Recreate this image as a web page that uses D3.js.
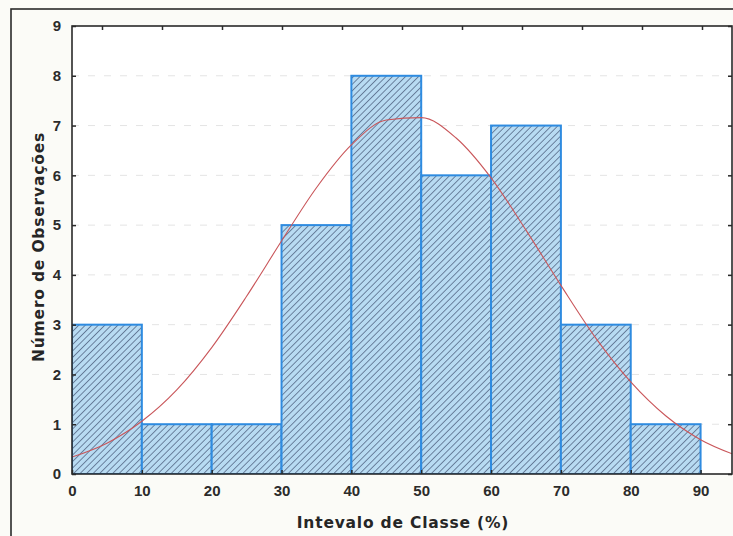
<!DOCTYPE html>
<html><head><meta charset="utf-8">
<script src="https://cdn.jsdelivr.net/npm/d3@7"></script>
<style>
html,body{margin:0;padding:0;background:#fbfbf7;}
svg{display:block;}
</style></head>
<body><svg id="chart" width="733" height="536"></svg>
<script>
// ---- data ----
const binStarts = [0, 10, 20, 30, 40, 50, 60, 70, 80];
const binWidth = 10;
const counts = [3, 1, 1, 5, 8, 6, 7, 3, 1];
const xTicks = [0, 10, 20, 30, 40, 50, 60, 70, 80, 90];
const yTicks = [0, 1, 2, 3, 4, 5, 6, 7, 8, 9];
const curveX = [0, 5, 10, 15, 20, 25, 30, 35, 40, 45, 50, 55, 60, 65, 70, 75, 80, 85, 90, 95];
const curveY = [0.34, 0.62, 1.06, 1.69, 2.54, 3.57, 4.68, 5.75, 6.61, 7.11, 7.16, 6.75, 5.95, 4.90, 3.79, 2.73, 1.85, 1.17, 0.69, 0.38];
const xTitle = "Intevalo de Classe (%)";
const yTitle = "Número de Observações";

// ---- layout ----
const svg = d3.select("#chart");
const L = 72, T = 26, R = 732, B = 474;
const x = d3.scaleLinear().domain([0, 94.5]).range([L, R]);
const y = d3.scaleLinear().domain([0, 9]).range([B, T]);
const xTop = d3.scaleLinear().domain([0, 11]).range([L, R]);

// outer frame
svg.append("rect").attr("x", 11).attr("y", 9).attr("width", 740).attr("height", 560)
  .attr("fill", "#fbfbf7").attr("stroke", "#2a2a2a").attr("stroke-width", 1.6);

// plot background
svg.append("rect").attr("x", L).attr("y", T).attr("width", R - L).attr("height", B - T).attr("fill", "#ffffff");

// clip
svg.append("clipPath").attr("id", "clip").append("rect")
  .attr("x", L).attr("y", T).attr("width", R - L).attr("height", B - T);

// hatch pattern
const defs = svg.append("defs");
const pat = defs.append("pattern").attr("id", "hatch").attr("patternUnits", "userSpaceOnUse")
  .attr("width", 4.6).attr("height", 4.6).attr("patternTransform", "rotate(45)");
pat.append("rect").attr("width", 4.6).attr("height", 4.6).attr("fill", "#b8dbf2");
pat.append("line").attr("x1", 0).attr("y1", 0).attr("x2", 0).attr("y2", 4.6)
  .attr("stroke", "#3b4b6b").attr("stroke-width", 1.25);

// gridlines
svg.append("g").selectAll("line").data(yTicks.slice(1, -1)).join("line")
  .attr("x1", L).attr("x2", R).attr("y1", d => y(d)).attr("y2", d => y(d))
  .attr("stroke", "#e4e4e4").attr("stroke-width", 1).attr("stroke-dasharray", "7,9");

// bars
svg.append("g").attr("clip-path", "url(#clip)").selectAll("rect").data(counts).join("rect")
  .attr("x", (d, i) => x(binStarts[i]))
  .attr("width", (d, i) => x(binStarts[i] + binWidth) - x(binStarts[i]))
  .attr("y", d => y(d))
  .attr("height", d => y(0) - y(d))
  .attr("fill", "url(#hatch)")
  .attr("stroke", "#2e8be0").attr("stroke-width", 2);

// fitted curve
const line = d3.line().x((d, i) => x(curveX[i])).y(d => y(d)).curve(d3.curveMonotoneX);
svg.append("path").attr("clip-path", "url(#clip)").datum(curveY).attr("d", line)
  .attr("fill", "none").attr("stroke", "#c9565a").attr("stroke-width", 1.1);

// plot border
svg.append("rect").attr("x", L).attr("y", T).attr("width", R - L).attr("height", B - T)
  .attr("fill", "none").attr("stroke", "#2a2a2a").attr("stroke-width", 1.6);

// axes
const tickFont = "'Liberation Sans Narrow', 'Liberation Sans', Arial, sans-serif";
const yAxis = d3.axisLeft(y).tickValues(yTicks).tickSize(-4).tickPadding(11).tickFormat(d3.format("d"));
const gy = svg.append("g").attr("transform", `translate(${L},0)`).call(yAxis);
const xAxis = d3.axisBottom(x).tickValues(xTicks).tickSize(-4).tickPadding(11).tickFormat(d3.format("d"));
const gx = svg.append("g").attr("transform", `translate(0,${B})`).call(xAxis);
const yAxisR = d3.axisRight(y).tickValues(yTicks).tickSize(-4).tickFormat("");
const gyr = svg.append("g").attr("transform", `translate(${R},0)`).call(yAxisR);
const topAxis = d3.axisTop(xTop).tickValues(d3.range(0.5, 11, 1)).tickSize(-4).tickFormat("");
const gt = svg.append("g").attr("transform", `translate(0,${T})`).call(topAxis);
[gy, gx, gyr, gt].forEach(g => {
  g.select(".domain").remove();
  g.selectAll(".tick line").attr("stroke", "#2a2a2a").attr("stroke-width", 1.5);
  g.selectAll("text").attr("font-family", tickFont).attr("font-size", 15)
    .attr("font-weight", "bold").attr("fill", "#2b2b2b");
});

// titles
const titleFont = "'DejaVu Sans', 'Liberation Sans', Arial, sans-serif";
svg.append("text").attr("x", 403).attr("y", 528).attr("text-anchor", "middle")
  .attr("font-family", titleFont).attr("font-weight", "bold").attr("letter-spacing", 0.8)
  .attr("font-size", 15.5).attr("fill", "#262626").text(xTitle);
svg.append("text").attr("transform", "translate(44,247) rotate(-90)").attr("text-anchor", "middle")
  .attr("font-family", titleFont).attr("font-weight", "bold").attr("letter-spacing", 0.8)
  .attr("font-size", 15.5).attr("fill", "#262626").text(yTitle);
</script></body></html>
